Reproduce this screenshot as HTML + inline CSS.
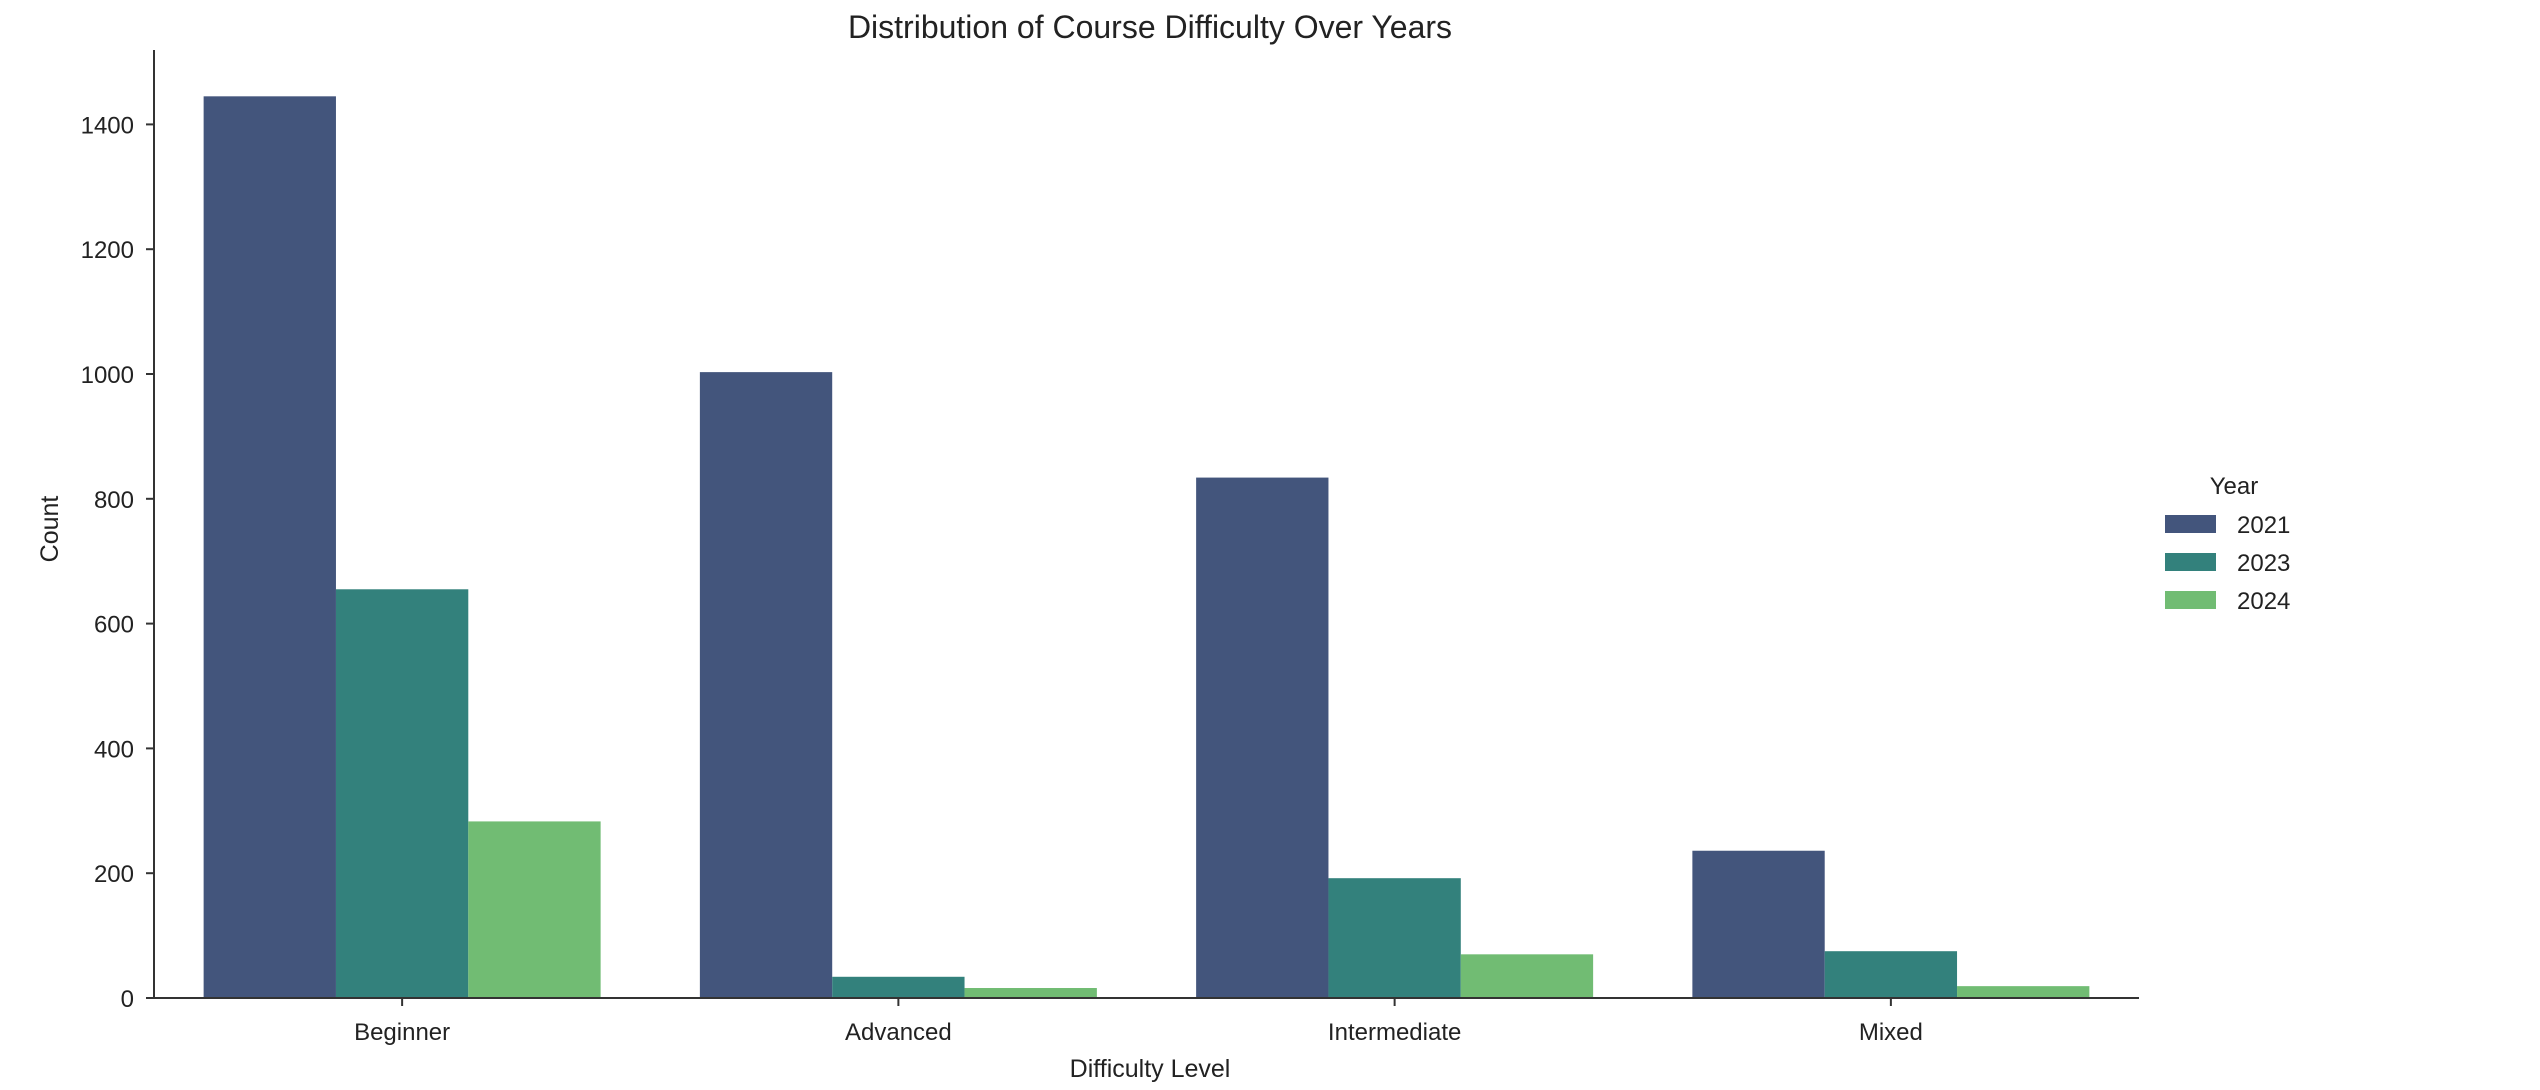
<!DOCTYPE html>
<html><head><meta charset="utf-8">
<style>
html,body{margin:0;padding:0;background:#fff;}
svg{display:block;font-family:"Liberation Sans",sans-serif;}
</style></head>
<body>
<svg id="chart" width="2540" height="1090" viewBox="0 0 2540 1090"></svg>
<script>
const categories = ["Beginner","Advanced","Intermediate","Mixed"];
const years = ["2021","2023","2024"];
const values2021 = [1445, 1003, 834, 236];
const values2023 = [655, 34, 192, 75];
const values2024 = [283, 16, 70, 19];
const yTicks = [0,200,400,600,800,1000,1200,1400];
const colors = ["#43557c","#33817c","#71bc73"];

const svg = document.getElementById('chart');
const NS = "http://www.w3.org/2000/svg";
const X0 = 154, X1 = 2139, Y0 = 998, YTOP = 50;
const catW = (X1 - X0) / categories.length;
function xScale(i){ return X0 + catW*(i+0.5); }
function yScale(v){ return Y0 - v*(124.8/200); }
function mk(tag, attrs, parent){ const e=document.createElementNS(NS,tag); for(const k in attrs) e.setAttribute(k,attrs[k]); (parent||svg).appendChild(e); return e; }

const series = [values2021, values2023, values2024];
const bw = catW*0.8/3;
series.forEach((vals, s) => {
  vals.forEach((v, i) => {
    const x = xScale(i) - catW*0.4 + s*bw;
    const r = mk('rect', {x:x, y:yScale(v), width:bw, height:Y0-yScale(v), fill:colors[s]});
    
    
  });
});

const ya = mk('line',{x1:X0,y1:YTOP,x2:X0,y2:Y0,stroke:'#333','stroke-width':2});


const xa = mk('line',{x1:X0,y1:Y0,x2:X1,y2:Y0,stroke:'#333','stroke-width':2});



yTicks.forEach(t => {
  const y = yScale(t);
  mk('line',{x1:X0-8,y1:y,x2:X0,y2:y,stroke:'#333','stroke-width':2});
  const tx = mk('text',{x:X0-20,y:y+9,'text-anchor':'end','font-size':24,fill:'#222'});
  tx.textContent = t;
  
  
});
categories.forEach((c,i) => {
  const x = xScale(i);
  mk('line',{x1:x,y1:Y0,x2:x,y2:Y0+8,stroke:'#333','stroke-width':2});
  const tx = mk('text',{x:x,y:1040,'text-anchor':'middle','font-size':24,fill:'#222'});
  tx.textContent = c;
  
  
});

const title = mk('text',{x:1150,y:38,'text-anchor':'middle','font-size':32,fill:'#222'});
title.textContent = 'Distribution of Course Difficulty Over Years';


const xl = mk('text',{x:1150,y:1077,'text-anchor':'middle','font-size':25,fill:'#222'});
xl.textContent = 'Difficulty Level';


const yl = mk('text',{x:58,y:529,'text-anchor':'middle','font-size':25,fill:'#222',transform:'rotate(-90 58 529)'});
yl.textContent = 'Count';



const lt = mk('text',{x:2234,y:494,'text-anchor':'middle','font-size':24,fill:'#222'});
lt.textContent = 'Year';


years.forEach((yr,s) => {
  const cy = 524 + s*38;
  const p = mk('rect',{x:2165,y:cy-9,width:51,height:18,fill:colors[s]});
  
  
  const t = mk('text',{x:2237,y:cy+9,'font-size':24,fill:'#222'});
  t.textContent = yr;
  
  
});
</script>
</body></html>
